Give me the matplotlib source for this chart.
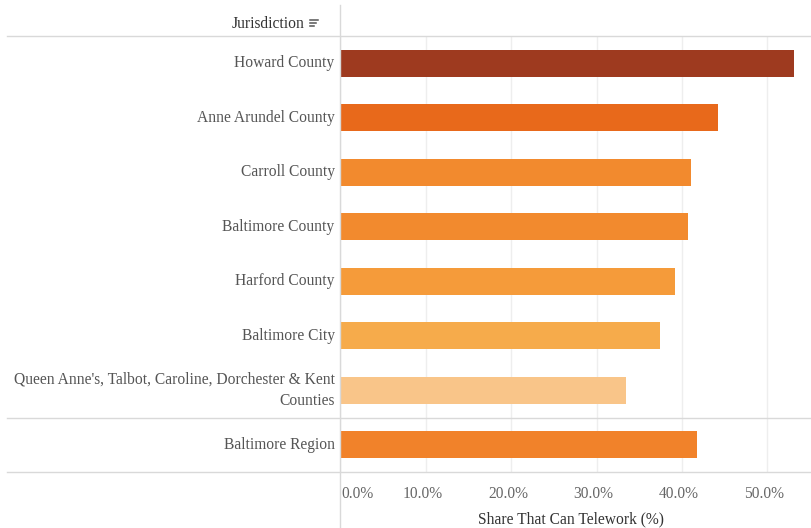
import matplotlib.pyplot as plt
from matplotlib.lines import Line2D

# data, top to bottom
jurisdictions = [
    'Howard County',
    'Anne Arundel County',
    'Carroll County',
    'Baltimore County',
    'Harford County',
    'Baltimore City',
    "Queen Anne's, Talbot, Caroline, Dorchester & Kent\nCounties",
    'Baltimore Region',
]
telework_share = [53.1, 44.2, 41.1, 40.7, 39.2, 37.4, 33.4, 41.7]
bar_colors = ['#9e3a1f', '#e8691b', '#f28a2e', '#f28a2e',
              '#f59b3a', '#f6ab4b', '#f9c589', '#f1822a']
tick_values = [0, 10, 20, 30, 40, 50]

W, H = 812, 528
fig = plt.figure(figsize=(W / 100, H / 100), dpi=100)
plt.rcParams['font.family'] = ['Liberation Serif', 'DejaVu Serif']
fs = 11.2

x0, x1 = 340.5, 812
y_top, y_bot = 36, 472
ax = fig.add_axes([x0 / W, 1 - y_bot / H, (x1 - x0) / W, (y_bot - y_top) / H])

n = len(jurisdictions)
ypos = list(range(n))
ax.barh(ypos, telework_share, height=0.5, color=bar_colors, zorder=3)
ax.set_ylim(n - 0.5, -0.5)
ax.set_xlim(0, (x1 - x0) / 8.54)

for s in ax.spines.values():
    s.set_visible(False)
ax.set_yticks([])
ax.set_xticks(tick_values)
ax.set_xticklabels([])
ax.tick_params(length=0)
ax.grid(axis='x', color='#eeeeee', linewidth=1, zorder=0)

line_kw = dict(color='#d9d9d9', linewidth=1, clip_on=False, zorder=4)
left_frac = (7 - x0) / (x1 - x0)
for yv in (-0.5, n - 1.5, n - 0.5):
    ax.axhline(yv, xmin=left_frac, xmax=1, **line_kw)
ax.axvline(0, ymin=-56 / 436, ymax=1 + 31 / 436, **line_kw)

# row labels
for y, lab in zip(ypos, jurisdictions):
    ax.text(-0.7, y, lab, ha='right', va='center', fontsize=fs,
            color='#555555', linespacing=1.45)

# x tick labels
trans = ax.get_xaxis_transform()
for v in tick_values:
    ha = 'left' if v == 0 else 'center'
    xv = 0.15 if v == 0 else v - 0.4
    ax.text(xv, -0.032, f'{v:.1f}%', transform=trans, ha=ha, va='top',
            fontsize=fs, color='#666666')
ax.text(27.0, -0.09, 'Share That Can Telework (%)',
        transform=trans, ha='center', va='top', fontsize=fs, color='#333333')

# header
fig.text(305 / W, 1 - 24 / H, 'Jurisdiction', ha='right', va='center',
         fontsize=fs, color='#333333')
for i, ln in enumerate([8, 6, 4]):
    yy = 1 - (20 + i * 3) / H
    fig.add_artist(Line2D([310 / W, (310 + ln) / W], [yy, yy],
                          color='#555555', linewidth=1.1))

fig.savefig('out.png', dpi=100)
